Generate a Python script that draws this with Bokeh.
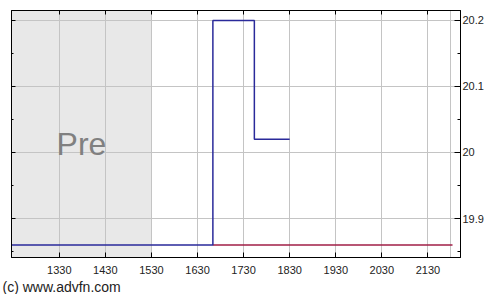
from bokeh.plotting import figure
from bokeh.models import FixedTicker, LinearAxis, Range1d, Label, BoxAnnotation, Title
from bokeh.embed import file_html
from bokeh.resources import INLINE


def to_min(t):
    h, m = t.split(":")
    return int(h) * 60 + float(m)


# ---- data ----
trade_times = ["12:28", "16:50", "17:44", "18:30"]
trade_prices = [19.86, 20.20, 20.02, 20.02]
prev_close_times = ["16:50", "22:02"]
prev_close_prices = [19.86, 19.86]
session_start = "12:27.8"
session_end = "22:12.4"
pre_market_end = "15:30"
market_close = "22:00"
x_tick_times = ["13:30", "14:30", "15:30", "16:30", "17:30", "18:30", "19:30", "20:30", "21:30"]
x_tick_labels = ["1330", "1430", "1530", "1630", "1730", "1830", "1930", "2030", "2130"]
y_ticks = [19.9, 20.0, 20.1, 20.2]
y_tick_labels = ["19.9", "20", "20.1", "20.2"]
y_minor_ticks = [19.85, 19.95, 20.05, 20.15]
y_low, y_high = 19.841, 20.215

FONT = "Liberation Sans"

x_ticks = [int(to_min(t)) for t in x_tick_times]
x0, x1 = to_min(session_start), to_min(session_end)

p = figure(width=486, height=294, x_range=Range1d(x0, x1), y_range=Range1d(y_low, y_high),
           output_backend="svg", toolbar_location=None, y_axis_location="right",
           min_border_left=11, min_border_right=26, min_border_top=10, min_border_bottom=36)
p.background_fill_color = "white"
p.border_fill_color = "white"
p.outline_line_color = "black"
p.outline_line_width = 1

# grey pre-market region
p.add_layout(BoxAnnotation(right=to_min(pre_market_end), fill_color="#e8e8e8", fill_alpha=1.0,
                           line_alpha=0, level="image"))

# grids
p.xgrid.ticker = FixedTicker(ticks=x_ticks + [to_min(market_close)])
p.ygrid.ticker = FixedTicker(ticks=y_ticks)
for g in (p.xgrid, p.ygrid):
    g.grid_line_color = "#c4c4c4"
    g.grid_line_width = 1

# bottom axis
xa = p.xaxis[0]
xa.ticker = FixedTicker(ticks=x_ticks)
xa.major_label_overrides = {t: l for t, l in zip(x_ticks, x_tick_labels)}
xa.major_tick_in = 5
xa.major_tick_out = 0
xa.minor_tick_in = 0
xa.minor_tick_out = 0
xa.major_label_standoff = 8
xa.major_label_text_font = FONT
xa.major_label_text_font_size = "11px"
xa.major_label_text_color = "#222222"
xa.axis_line_color = "black"
xa.major_tick_line_color = "black"

# right axis
ya = p.yaxis[0]
ya.ticker = FixedTicker(ticks=y_ticks, minor_ticks=y_minor_ticks)
ya.major_label_overrides = {t: l for t, l in zip(y_ticks, y_tick_labels)}
ya.major_tick_in = 6
ya.major_tick_out = 0
ya.minor_tick_in = 3
ya.minor_tick_out = 0
ya.major_label_standoff = 2
ya.major_label_text_font = FONT
ya.major_label_text_font_size = "11px"
ya.major_label_text_color = "#222222"
ya.axis_line_color = "black"

# left axis: ticks only
la = LinearAxis(ticker=FixedTicker(ticks=y_ticks, minor_ticks=y_minor_ticks),
                major_label_overrides={t: "" for t in y_ticks}, major_label_standoff=0,
                major_tick_in=4, major_tick_out=0, minor_tick_in=2, minor_tick_out=0,
                axis_line_color="black")
p.add_layout(la, "left")

# top axis: ticks only
ta = LinearAxis(ticker=FixedTicker(ticks=x_ticks),
                major_label_overrides={t: "" for t in x_ticks}, major_label_standoff=0,
                major_tick_in=4, major_tick_out=0, minor_tick_in=0, minor_tick_out=0,
                axis_line_color="black")
p.add_layout(ta, "above")

# previous close (red) and price (blue)
p.line([to_min(t) for t in prev_close_times], prev_close_prices, line_color="#a01e46", line_width=1.5)
p.step([to_min(t) for t in trade_times], trade_prices, mode="after", line_color="#2a2a9a", line_width=1.5)

# "Pre" label
p.add_layout(Label(x=(x0 + to_min(pre_market_end)) / 2, y=20.013, text="Pre", text_align="center",
                   text_baseline="alphabetic", text_font=FONT, text_font_size="32px",
                   text_color="#808080"))

# copyright
p.add_layout(Title(text="(c) www.advfn.com", align="left", offset=-9, standoff=0,
                   text_font=FONT, text_font_size="14px", text_font_style="normal",
                   text_color="#222222"), "below")

open("out.html", "w").write(file_html(p, INLINE))
